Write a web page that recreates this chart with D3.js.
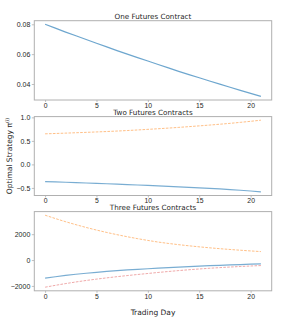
<!DOCTYPE html>
<html>
<head>
<meta charset="utf-8">
<script src="https://cdn.jsdelivr.net/npm/d3@7"></script>
<style>
  body { margin: 0; background: #fff; }
  svg { display: block; font-family: "DejaVu Sans", sans-serif; }
</style>
</head>
<body>
<div id="chart"></div>
<script>
//----------------------------
// Data
//----------------------------

var days = d3.range(0, 22);

var oneContract = [0.0800, 0.0774, 0.0748, 0.0723, 0.0698, 0.0673, 0.0649, 0.0624, 0.0600, 0.0577,
    0.0554, 0.0531, 0.0508, 0.0485, 0.0463, 0.0442, 0.0420, 0.0399, 0.0378, 0.0357, 0.0337, 0.0317];

var twoContractsA = [-0.365, -0.372, -0.380, -0.387, -0.395, -0.403, -0.411, -0.420, -0.429, -0.438,
    -0.447, -0.456, -0.466, -0.476, -0.487, -0.498, -0.509, -0.521, -0.535, -0.550, -0.566, -0.585];
var twoContractsB = [0.650, 0.657, 0.665, 0.673, 0.681, 0.690, 0.699, 0.709, 0.720, 0.732,
    0.745, 0.758, 0.772, 0.787, 0.803, 0.819, 0.836, 0.854, 0.873, 0.894, 0.916, 0.940];

var threeContractsA = [-1400, -1290, -1190, -1100, -1020, -948, -882, -822, -767, -717,
    -671, -625, -582, -542, -505, -470, -437, -406, -377, -349, -322, -296];
var threeContractsB = [3470, 3210, 2965, 2735, 2520, 2320, 2135, 1963, 1803, 1655,
    1518, 1392, 1285, 1190, 1103, 1022, 948, 880, 818, 760, 705, 655];
var threeContractsC = [-2100, -1955, -1820, -1695, -1580, -1475, -1378, -1285, -1200, -1118,
    -1038, -960, -885, -815, -750, -690, -635, -585, -540, -498, -460, -425];

var xTicks = [0, 5, 10, 15, 20];
var titles = ["One Futures Contract", "Two Futures Contracts", "Three Futures Contracts"];
var yTicks = [[0.04, 0.06, 0.08], [-0.5, 0.0, 0.5, 1.0], [-2000, 0, 2000]];
var yFormats = [d3.format(".2f"), d3.format(".1f"), d3.format("d")];

//----------------------------
// Layout
//----------------------------

var w = 287, h = 318;
var left = 34.3, right = 271.7;
var panels = [
    { top: 20.7, bottom: 100, series: [{ v: oneContract, c: "#1f77b4", o: 0.65, dash: null }] },
    { top: 116.6, bottom: 195.5, series: [
        { v: twoContractsA, c: "#1f77b4", o: 0.6, dash: null },
        { v: twoContractsB, c: "#ff7f0e", o: 0.5, dash: "2.6,1.3" }] },
    { top: 211.6, bottom: 290.8, series: [
        { v: threeContractsA, c: "#1f77b4", o: 0.6, dash: null },
        { v: threeContractsB, c: "#ff7f0e", o: 0.5, dash: "2.6,1.3" },
        { v: threeContractsC, c: "#d62728", o: 0.4, dash: "2.6,1.3" }] }
];

function padded(ext) {
    var m = (ext[1] - ext[0]) * 0.05;
    return [ext[0] - m, ext[1] + m];
}

var svg = d3.select("#chart")
    .append("svg")
    .attr("width", w)
    .attr("height", h);

var x = d3.scaleLinear()
    .domain(padded(d3.extent(days)))
    .range([left, right]);

var spine = "#b0b0b0";
var textColor = "#262626";

panels.forEach(function (p, i) {
    var all = [];
    p.series.forEach(function (s) { all = all.concat(s.v); });
    var y = d3.scaleLinear()
        .domain(padded(d3.extent(all)))
        .range([p.bottom, p.top]);

    var g = svg.append("g");

    // x axis
    var xa = g.append("g")
        .attr("transform", "translate(0," + p.bottom + ")")
        .call(d3.axisBottom(x).tickValues(xTicks).tickSize(2).tickPadding(0.5).tickFormat(d3.format("d")));
    xa.select(".domain").remove();
    xa.selectAll("line").attr("stroke", spine).attr("stroke-width", 0.8);
    xa.selectAll("text").attr("fill", textColor).style("font-size", "6.8px").attr("dy", "0.78em");

    // y axis
    var ya = g.append("g")
        .attr("transform", "translate(" + left + ",0)")
        .call(d3.axisLeft(y).tickValues(yTicks[i]).tickSize(2.5).tickPadding(1.5)
            .tickFormat(function (d) { return yFormats[i](d).replace("-", "\u2212"); }));
    ya.select(".domain").remove();
    ya.selectAll("line").attr("stroke", spine).attr("stroke-width", 0.8);
    ya.selectAll("text").attr("fill", textColor).style("font-size", "7px");

    // lines
    p.series.forEach(function (s) {
        g.append("path")
            .datum(s.v)
            .attr("fill", "none")
            .attr("stroke", s.c)
            .attr("stroke-opacity", s.o)
            .attr("stroke-width", s.dash ? 1 : 1.2)
            .attr("stroke-dasharray", s.dash)
            .attr("d", d3.line().x(function (d, k) { return x(days[k]); }).y(function (d) { return y(d); }));
    });

    // frame
    g.append("rect")
        .attr("x", left)
        .attr("y", p.top)
        .attr("width", right - left)
        .attr("height", p.bottom - p.top)
        .attr("fill", "none")
        .attr("stroke", spine)
        .attr("stroke-width", 1);

    // title
    g.append("text")
        .attr("x", (left + right) / 2)
        .attr("y", p.top - 1.5)
        .attr("text-anchor", "middle")
        .attr("fill", textColor)
        .style("font-size", "7.2px")
        .text(titles[i]);
});

//----------------------------
// Axis labels
//----------------------------

svg.append("text")
    .attr("x", (left + right) / 2)
    .attr("y", 314.5)
    .attr("text-anchor", "middle")
    .attr("fill", textColor)
    .style("font-size", "7.5px")
    .text("Trading Day");

var yl = svg.append("text")
    .attr("transform", "translate(11.5,156) rotate(-90)")
    .attr("text-anchor", "middle")
    .attr("fill", textColor)
    .style("font-size", "7.5px");
yl.append("tspan").text("Optimal Strategy \u03c0");
yl.append("tspan").attr("dy", "-0.45em").style("font-size", "5px").text("(i)");
</script>
</body>
</html>
